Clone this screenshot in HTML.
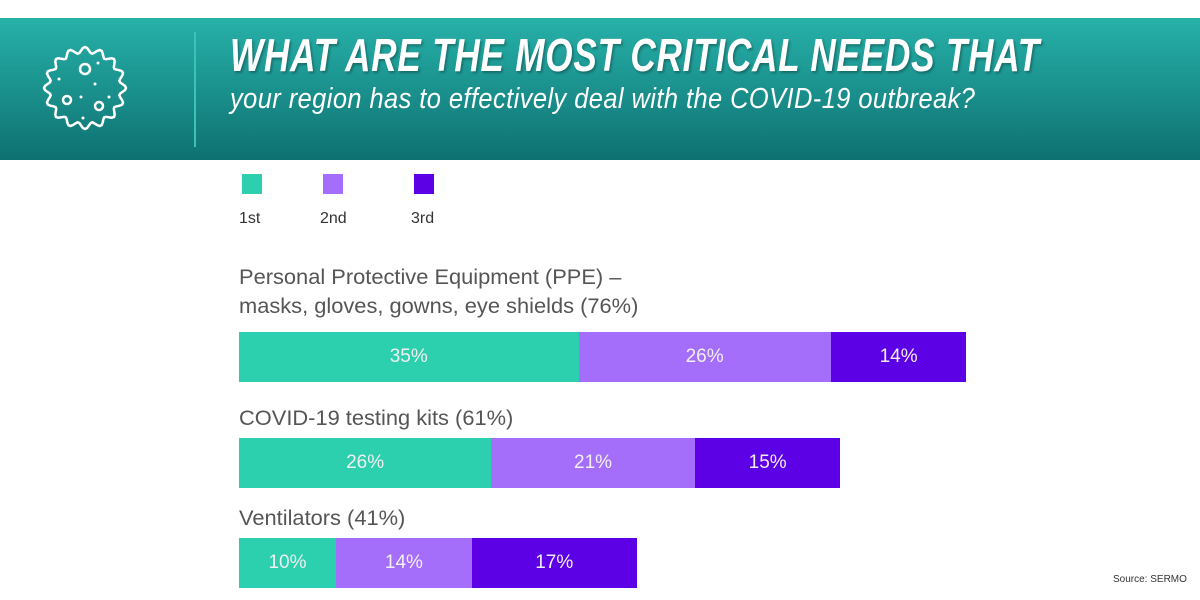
<!DOCTYPE html>
<html><head><meta charset="utf-8"><style>
body{margin:0;width:1200px;height:600px;background:#fff;position:relative;overflow:hidden;font-family:"Liberation Sans",sans-serif}
#hdr{position:absolute;left:0;top:18px;width:1200px;height:142px;background:linear-gradient(#27b1a9,#0e7171)}
#div{position:absolute;left:194px;top:14px;width:2px;height:115px;background:#3cc3b8}
.t{position:absolute;color:#fff;white-space:nowrap;transform-origin:0 0;font-style:italic}
#title{left:230px;top:28px;font-size:46px;font-weight:bold;letter-spacing:1px;text-shadow:2px 2px 3px rgba(0,0,0,.3)}
#sub{left:230px;top:83px;font-size:29px;letter-spacing:.5px}
.lab{position:absolute;color:#555;font-size:21px;white-space:nowrap;transform-origin:0 0}
.leg{position:absolute;width:20px;height:20px}
.legt{position:absolute;font-size:16px;color:#333}
.seg{position:absolute;color:#f0f0f0;font-size:19px;display:flex;align-items:center;justify-content:center}
</style></head><body>
<div id="hdr">
<svg style="position:absolute;left:40px;top:22px" width="110" height="110" viewBox="0 0 110 110">
<path id="blob" fill="none" stroke="#fff" stroke-width="2.5" d=""/>
<g fill="none" stroke="#fff" stroke-width="2.5"><circle cx="45" cy="29" r="5"/><circle cx="27" cy="60" r="4"/><circle cx="59" cy="66" r="4"/></g>
<g fill="#fff"><circle cx="58" cy="23" r="1.5"/><circle cx="19" cy="39" r="1.5"/><circle cx="55" cy="44" r="1.5"/><circle cx="41" cy="57" r="1.5"/><circle cx="69" cy="57" r="1.5"/><circle cx="43" cy="78" r="1.5"/></g>
</svg>
<div id="div"></div>
</div>
<div class="t" id="title">WHAT ARE THE MOST CRITICAL NEEDS THAT</div>
<div class="t" id="sub">your region has to effectively deal with the COVID-19 outbreak?</div>
<div id="chart"></div>
<div style="position:absolute;left:1113px;top:574px;font-size:10px;color:#333">Source: SERMO</div>
<script>
const categories=["Personal Protective Equipment (PPE) –\nmasks, gloves, gowns, eye shields (76%)","COVID-19 testing kits (61%)","Ventilators (41%)"];
const seriesNames=["1st","2nd","3rd"];
const first=[35,26,10];
const second=[26,21,14];
const third=[14,15,17];
const colors=["#2ccfae","#a56efa","#5c00e6"];
function fit(id,w){const e=document.getElementById(id);e.style.transform='scaleX('+(w/e.offsetWidth)+')';}
fit('title',810);fit('sub',745);
let d='';for(let i=0;i<=360;i+=3){const a=i*Math.PI/180,r=38+3*Math.cos(a*16);const x=45+r*Math.cos(a),y=48+r*Math.sin(a);d+=(i?'L':'M')+x.toFixed(1)+','+y.toFixed(1);}
document.getElementById('blob').setAttribute('d',d+'Z');
const ch=document.getElementById('chart');
const legX=[242,323,414];
seriesNames.forEach((n,i)=>{
 const s=document.createElement('div');s.className='leg';s.style.left=legX[i]+'px';s.style.top='174px';s.style.background=colors[i];
 
 
 ch.appendChild(s);
 const t=document.createElement('div');t.className='legt';t.textContent=n;t.style.left=(legX[i]-3)+'px';t.style.top='210px';
 
 
 ch.appendChild(t);
});
const x0=239,pxPer=9.7;
const xs=v=>v*pxPer;
const barTop=[332,438,538],labTop=[263,404,504];
categories.forEach((c,i)=>{
 const l=document.createElement('div');l.className='lab';l.style.left='239px';l.style.top=labTop[i]+'px';l.style.lineHeight='29px';
 l.style.transform='scaleX(1.04)';
 l.innerHTML=c.replace('\n','<br>');
 
 
 ch.appendChild(l);
 let acc=0;[first,second,third].forEach((arr,j)=>{
  const b=document.createElement('div');b.className='seg';
  b.style.left=(x0+xs(acc))+'px';b.style.top=barTop[i]+'px';b.style.width=xs(arr[i])+'px';b.style.height='50px';b.style.background=colors[j];
  b.textContent=arr[i]+'%';
  
  
  ch.appendChild(b);acc+=arr[i];
 });
});
</script>
</body></html>
